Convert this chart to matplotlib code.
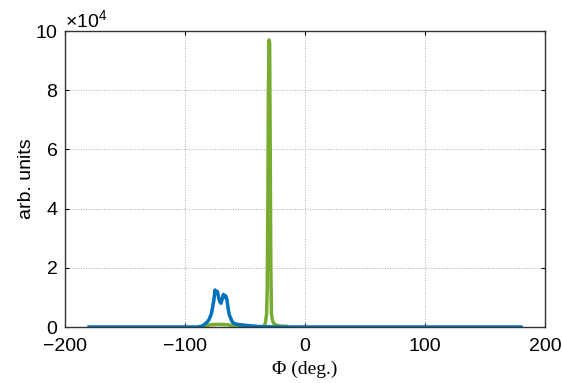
import matplotlib.pyplot as plt
import numpy as np
from matplotlib.ticker import ScalarFormatter

plt.rcParams['font.family'] = ['Liberation Sans', 'DejaVu Sans']
plt.rcParams['mathtext.fontset'] = 'custom'
plt.rcParams['mathtext.rm'] = 'Liberation Sans'

# blue trace
phi_b = [-180, -90, -86, -84, -82, -80, -78, -76, -75, -74, -73, -72, -71, -70, -69, -68,
         -67, -66, -65, -64, -63, -62, -61, -60, -59, -58, -55, -50, -45, -40, -35, -30,
         -25, 180]
amp_b = [0, 0, 300, 800, 1500, 2500, 4500, 9000, 12500, 11500, 12000, 10000, 8500, 8000,
         9500, 11000, 10000, 10500, 9000, 6000, 4000, 3000, 2000, 1500, 1200, 1000, 800,
         600, 400, 200, 100, 100, 0, 0]

# green trace
phi_g = [-85, -82, -78, -72, -65, -60, -58, -40, -34, -33, -32, -31.5, -31, -30.5, -30,
         -29.5, -29, -28.5, -28, -27.5, -27, -26, -24, -20, -15, -14]
amp_g = [0, 500, 800, 900, 800, 500, 0, 0, 200, 1500, 4500, 13000, 40000, 80000, 97000,
         96000, 60000, 20000, 4500, 3000, 2000, 1200, 600, 300, 200, 0]

fig = plt.figure(figsize=(5.62, 3.83), dpi=100)
ax = fig.add_axes([0.1157, 0.1462, 0.8541, 0.7728])

ax.plot(phi_g, amp_g, color='#77AC30', lw=2.5)
ax.plot(phi_b, amp_b, color='#0072BD', lw=2.5)

ax.set_xlim(-200, 200)
ax.set_ylim(0, 100000)
ax.set_xticks([-200, -100, 0, 100, 200])
ax.set_yticks(np.arange(0, 100001, 20000))

fmt = ScalarFormatter(useMathText=True)
fmt.set_powerlimits((4, 4))
ax.yaxis.set_major_formatter(fmt)
ax.yaxis.get_offset_text().set_fontsize(14)

ax.grid(True, linestyle=':', color='#aaaaaa', linewidth=0.7)
ax.tick_params(direction='in', top=True, right=True, labelsize=14, length=3)
ax.tick_params(axis='x', pad=8)
ax.tick_params(axis='y', pad=5)
for s in ax.spines.values():
    s.set_linewidth(1.0)
    s.set_color('#333333')

ax.set_xlabel('Φ (deg.)', family=['Liberation Serif', 'DejaVu Serif'], fontsize=14, labelpad=4)
ax.set_ylabel('arb. units', fontsize=14, labelpad=0)

fig.savefig('out.png', dpi=100)
